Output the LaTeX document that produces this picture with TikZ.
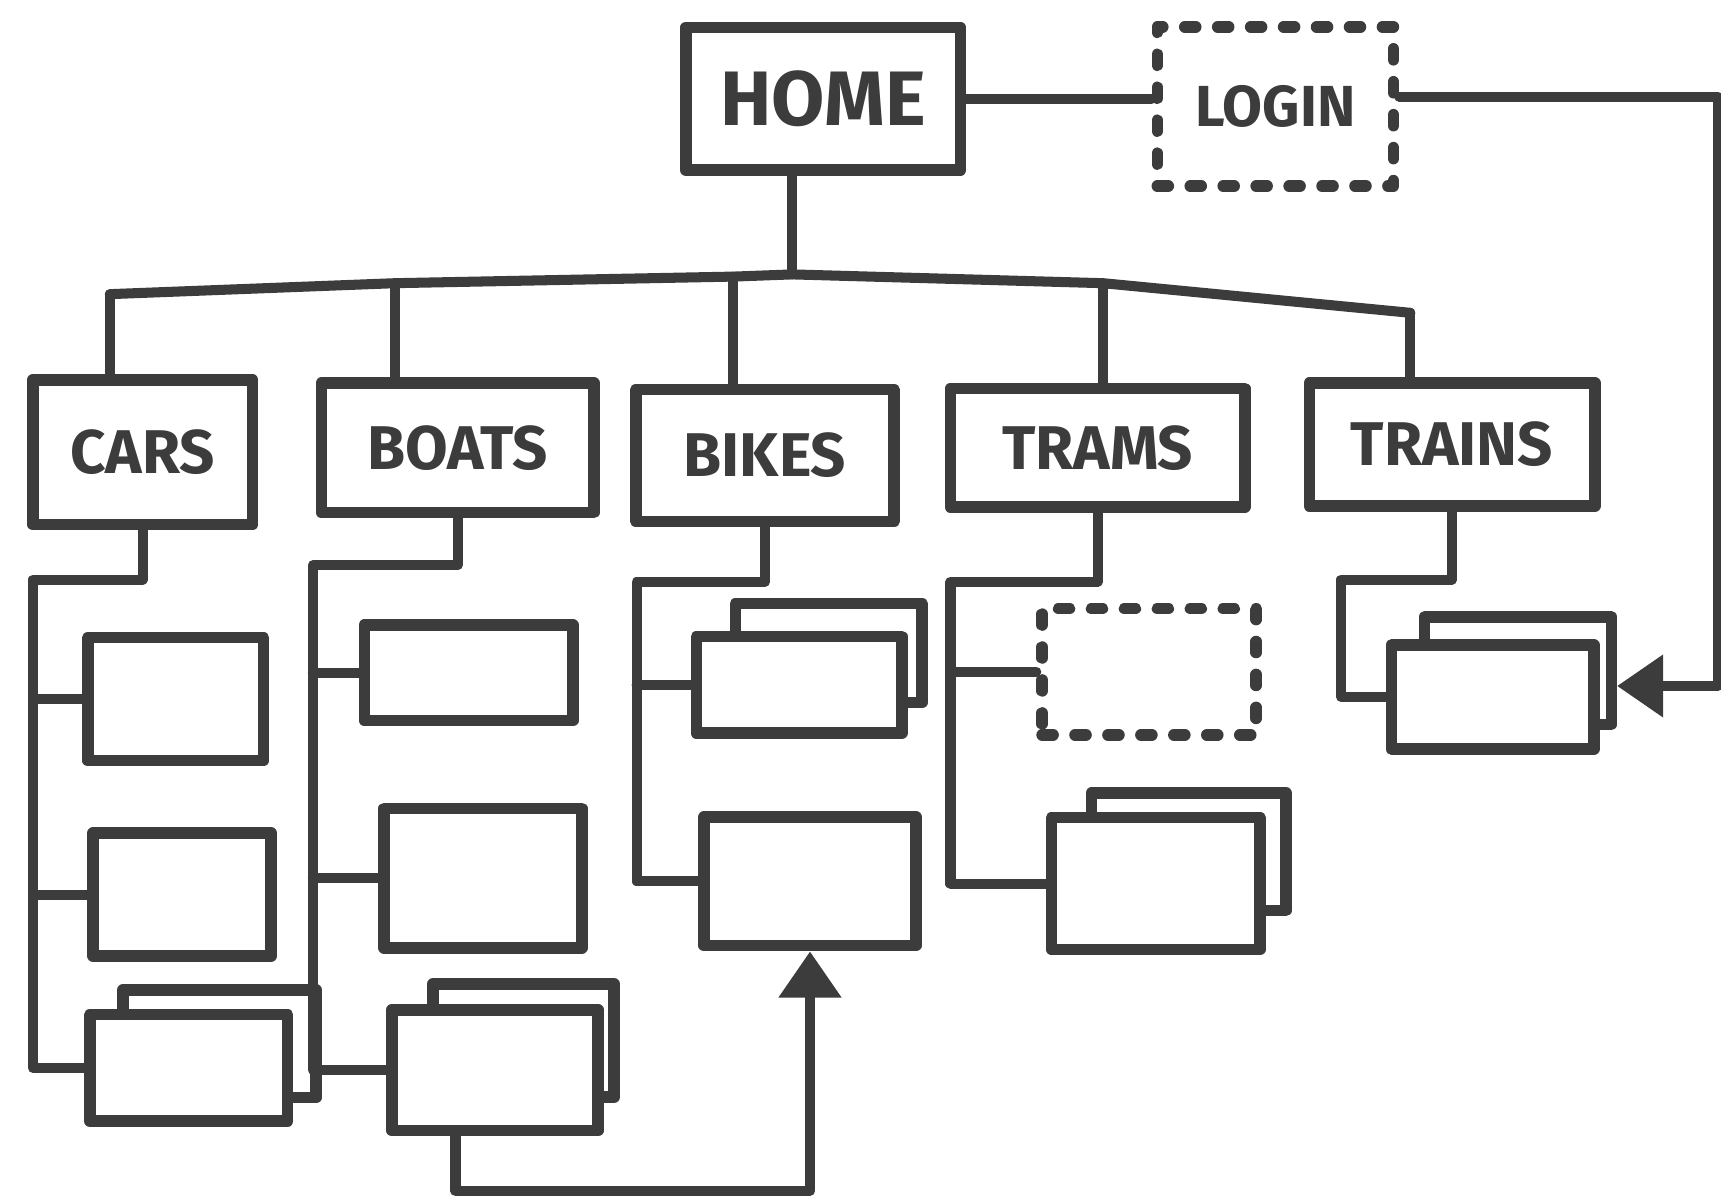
\documentclass[tikz,border=0pt]{standalone}
\usepackage{fontspec}
\setmainfont{Fira Sans}
\usetikzlibrary{arrows.meta}
\definecolor{ink}{HTML}{3C3C3C}
\tikzset{
  pg/.style={draw=ink, line width=3pt, fill=white, rectangle, inner sep=0pt,
    line join=round, line cap=round, text=ink},
  lbl/.style={pg, font=\bfseries\fontsize{16}{16}\selectfont},
  dashbox/.style={pg, dash pattern=on 0.1cm off 0.2cm},
  wire/.style={draw=ink, line width=2.6pt, line join=round, line cap=round},
  arr/.style={wire, -{Triangle[width=0.55cm,length=0.42cm]}},
}
\begin{document}
\begin{tikzpicture}[x=0.01cm,y=-0.01cm]
\useasboundingbox (0,0) rectangle (1568,1096);
% top level
\node[lbl, minimum width=2.5cm, minimum height=1.3cm, font=\bfseries\fontsize{20}{20}\selectfont] (home) at (750,90) {HOME};
\node[dashbox, minimum width=2.15cm, minimum height=1.45cm, font=\bfseries\fontsize{15}{15}\selectfont] (login) at (1162,97) {LOGIN};
% categories
\node[lbl, minimum width=2.0cm, minimum height=1.32cm] (cars) at (130,412) {CARS};
\node[lbl, minimum width=2.48cm, minimum height=1.18cm] (boats) at (417,408) {BOATS};
\node[lbl, minimum width=2.35cm, minimum height=1.2cm] (bikes) at (697,415) {BIKES};
\node[lbl, minimum width=2.68cm, minimum height=1.08cm] (trams) at (1000,408) {TRAMS};
\node[lbl, minimum width=2.6cm, minimum height=1.12cm] (trains) at (1323,405) {TRAINS};
% cars children
\node[pg, minimum width=1.6cm, minimum height=1.12cm] (cars1) at (160,637) {};
\node[pg, minimum width=1.62cm, minimum height=1.12cm] (cars2) at (166,815) {};
\node[pg, minimum width=1.76cm, minimum height=0.98cm] (cars3b) at (200,951) {};
\node[pg, minimum width=1.8cm, minimum height=0.97cm] (cars3f) at (172,973) {};
% boats children
\node[pg, minimum width=1.9cm, minimum height=0.87cm] (boats1) at (427,613) {};
\node[pg, minimum width=1.8cm, minimum height=1.27cm] (boats2) at (440,800) {};
\node[pg, minimum width=1.65cm, minimum height=1.03cm] (boats3b) at (477,948) {};
\node[pg, minimum width=1.88cm, minimum height=1.1cm] (boats3f) at (451,975) {};
% bikes children
\node[pg, minimum width=1.7cm, minimum height=0.9cm] (bikes1b) at (755,595) {};
\node[pg, minimum width=1.87cm, minimum height=0.88cm] (bikes1f) at (728,624) {};
\node[pg, minimum width=1.93cm, minimum height=1.17cm] (bikes2) at (738,803) {};
% trams children
\node[dashbox, minimum width=1.95cm, minimum height=1.15cm] (trams1) at (1047,612) {};
\node[pg, minimum width=1.77cm, minimum height=1.07cm] (trams2b) at (1083,776) {};
\node[pg, minimum width=1.9cm, minimum height=1.2cm] (trams2f) at (1053,805) {};
% trains children
\node[pg, minimum width=1.7cm, minimum height=0.98cm] (trains1b) at (1383,611) {};
\node[pg, minimum width=1.84cm, minimum height=0.95cm] (trains1f) at (1360,635) {};
% bus
\coordinate (b1) at (100,268);
\coordinate (b2) at (360,258);
\coordinate (b3) at (668,252);
\coordinate (bh) at (722,250);
\coordinate (b4) at (1005,258);
\coordinate (b5) at (1285,285);
\draw[wire] (b1) -- (b2) -- (b3) -- (bh) -- (b4) -- (b5);
\draw[wire] (home.south -| bh) -- (bh);
\draw[wire] (b1) -- (b1 |- cars.north);
\draw[wire] (b2) -- (b2 |- boats.north);
\draw[wire] (b3) -- (b3 |- bikes.north);
\draw[wire] (b4) -- (b4 |- trams.north);
\draw[wire] (b5) -- (b5 |- trains.north);
% home - login
\draw[wire] (home.east) -- (login.west |- home.east);
% login to trains
\coordinate (lr) at (1565,88);
\coordinate (ar) at (1565,625);
\draw[arr] (login.east |- lr) -- (lr) -- (ar) -- (trains1b.east |- ar);
% trunks
\coordinate (ct) at (30,528);
\draw[wire] (cars.south) |- (ct) |- (cars3f.west);
\draw[wire] (cars1.west -| ct) -- (cars1.west);
\draw[wire] (cars2.west -| ct) -- (cars2.west);
\coordinate (bt) at (285,515);
\draw[wire] (boats.south) |- (bt) |- (boats3f.west);
\draw[wire] (boats1.west -| bt) -- (boats1.west);
\draw[wire] (boats2.west -| bt) -- (boats2.west);
\coordinate (kt) at (580,530);
\draw[wire] (bikes.south) |- (kt) |- (bikes2.west);
\draw[wire] (bikes1f.west -| kt) -- (bikes1f.west);
\coordinate (mt) at (866,530);
\draw[wire] (trams.south) |- (mt) |- (trams2f.west);
\draw[wire] (trams1.west -| mt) -- (trams1.west);
\coordinate (nt) at (1222,528);
\draw[wire] (trains.south) |- (nt) |- (trains1f.west);
% boats3 to bikes2
\coordinate (ab) at (415,1085);
\draw[arr] (boats3f.south -| ab) -- (ab) -| (bikes2.south);
\end{tikzpicture}
\end{document}
